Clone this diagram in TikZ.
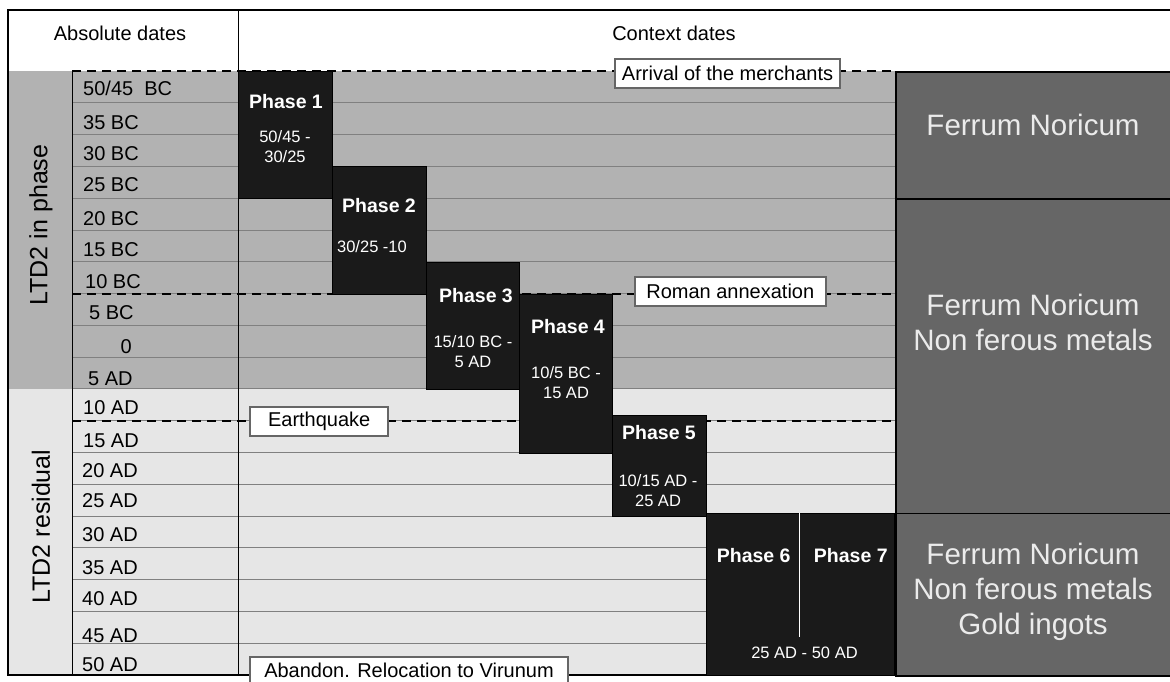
\documentclass[tikz,border=0pt]{standalone}
\usepackage{fontspec}
\setmainfont{Liberation Sans}
\definecolor{midgray}{HTML}{B2B2B2}
\definecolor{lightgray2}{HTML}{E6E6E6}
\definecolor{darkgray2}{HTML}{666666}
\definecolor{phasefill}{HTML}{1A1A1A}
\definecolor{rowgray}{HTML}{808080}
\definecolor{annotgray}{HTML}{666666}
\begin{document}
\begin{tikzpicture}[x=1pt,y=-1pt,
  rowline/.style={draw=rowgray,line width=1pt},
  dashline/.style={draw=black,line width=2pt,dash pattern=on 9pt off 6pt},
  phasebox/.style={rectangle,fill=phasefill,draw=black,line width=0.6pt,anchor=north west,inner sep=0pt},
  phasetitle/.style={text=white,font=\fontsize{19.5}{23}\selectfont\bfseries,inner sep=0pt},
  phasedate/.style={text=white,font=\fontsize{16.5}{20}\selectfont,align=center,inner sep=0pt},
  rightbox/.style={rectangle,fill=darkgray2,draw=black,line width=1.5pt,anchor=north west,inner sep=0pt},
  righttext/.style={text=white!92!black,font=\fontsize{29.5}{35}\selectfont,align=center,inner sep=0pt},
  datelabel/.style={font=\fontsize{20}{24}\selectfont,anchor=west,inner sep=0pt},
  headtext/.style={font=\fontsize{20}{24}\selectfont,inner sep=0pt},
  sidetext/.style={font=\fontsize{25}{30}\selectfont,rotate=90,inner sep=0pt},
  annot/.style={rectangle,fill=white,draw=annotgray,line width=2pt,font=\fontsize{20}{24}\selectfont,inner sep=0pt,minimum height=29pt}
]
\clip (0,0) rectangle (1170,681);
\fill[white] (0,0) rectangle (1170,681);
% background bands
\fill[midgray] (8,71) rectangle (895,388.9);
\fill[lightgray2] (8,388.9) rectangle (895,675);
% row lines
\foreach \yy in {102.8,134.6,166.4,198.2,230.0,261.7,293.5,325.3,357.1,388.9,420.7,452.5,484.3,516.1,547.9,579.6,611.4,643.2}
  \draw[rowline] (72,\yy) -- (895,\yy);
% vertical lines and frame
\draw[line width=1pt] (72,71) -- (72,675);
\draw[line width=1pt] (238,10) -- (238,675);
\draw[line width=1.2pt] (1175,10) -- (8,10) -- (8,675) -- (1175,675);
% dashed event lines
\coordinate (d1a) at (72,71);   \coordinate (d1b) at (895,71);
\coordinate (d2a) at (72,293.5); \coordinate (d2b) at (895,293.5);
\coordinate (d3a) at (72,420.7); \coordinate (d3b) at (895,420.7);
\draw[dashline] (d1a) -- (d1b);
\draw[dashline] (d2a) -- (d2b);
\draw[dashline] (d3a) -- (d3b);
% headers
\node[headtext] (hAbs) at (120,33) {Absolute dates};
\node[headtext] (hCtx) at (674,33) {Context dates};
% side labels
\node[sidetext] (ltdp) at (41,225) {LTD2 in phase};
\node[sidetext] (ltdr) at (41,526.5) {LTD2 residual};
% date labels
\node[datelabel] (l0) at (83,88) {50/45\ \ BC};
\node[datelabel] (l1) at (83,122.5) {35 BC};
\node[datelabel] (l2) at (83,153.5) {30 BC};
\node[datelabel] (l3) at (83,185) {25 BC};
\node[datelabel] (l4) at (83,219) {20 BC};
\node[datelabel] (l5) at (83,250) {15 BC};
\node[datelabel] (l6) at (85,282) {10 BC};
\node[datelabel] (l7) at (89,313) {5 BC};
\node[datelabel] (l8) at (120.5,346.5) {0};
\node[datelabel] (l9) at (88,379) {5 AD};
\node[datelabel] (l10) at (83,408) {10 AD};
\node[datelabel] (l11) at (83,441) {15 AD};
\node[datelabel] (l12) at (82,470.5) {20 AD};
\node[datelabel] (l13) at (82,500.5) {25 AD};
\node[datelabel] (l14) at (82,535) {30 AD};
\node[datelabel] (l15) at (82,567.5) {35 AD};
\node[datelabel] (l16) at (82,599) {40 AD};
\node[datelabel] (l17) at (82,636) {45 AD};
\node[datelabel] (l18) at (82,665) {50 AD};
% phase boxes
\node[phasebox,minimum width=93.5pt,minimum height=127.2pt] (p1) at (238,71) {};
\node[phasebox,minimum width=94.5pt,minimum height=127.1pt] (p2) at (331.5,166.4) {};
\node[phasebox,minimum width=93pt,minimum height=127.2pt] (p3) at (426,261.7) {};
\node[phasebox,minimum width=93pt,minimum height=159pt] (p4) at (519,293.5) {};
\node[phasebox,minimum width=94pt,minimum height=101pt] (p5) at (612,415) {};
\node[phasebox,minimum width=188pt,minimum height=162.5pt] (p67) at (706,512.5) {};
\coordinate (sepTop) at (799.7,512.5);
\coordinate (sepBot) at (799.7,636.5);
\draw[white,line width=1.5pt] (sepTop) -- (sepBot);
% phase texts
\node[phasetitle] (p1t) at (286,101.7) {Phase 1};
\node[phasedate] (p1d) at (285,147) {50/45 -\\30/25};
\node[phasetitle] (p2t) at (379,206) {Phase 2};
\node[phasedate] (p2d) at (372,247) {30/25 -10};
\node[phasetitle] (p3t) at (476,296) {Phase 3};
\node[phasedate] (p3d) at (473,351.7) {15/10 BC -\\5 AD};
\node[phasetitle] (p4t) at (568,326.7) {Phase 4};
\node[phasedate] (p4d) at (566,382.5) {10/5 BC -\\15 AD};
\node[phasetitle] (p5t) at (659,432.7) {Phase 5};
\node[phasedate] (p5d) at (658,490.5) {10/15 AD -\\25 AD};
\node[phasetitle] (p6t) at (753.7,556) {Phase 6};
\node[phasetitle] (p7t) at (850.8,556) {Phase 7};
\node[phasedate] (p67d) at (804.5,653) {25 AD - 50 AD};
% right column
\node[rightbox,minimum width=280pt,minimum height=127.2pt] (r1) at (895,71) {};
\node[rightbox,minimum width=280pt,minimum height=314.3pt] (r2) at (895,198.2) {};
\node[rightbox,minimum width=280pt,minimum height=162.5pt] (r3) at (895,512.5) {};
\node[righttext] (r1t) at (1033,125) {Ferrum Noricum};
\node[righttext] (r2t) at (1033,322) {Ferrum Noricum\\Non ferous metals};
\node[righttext] (r3t) at (1033,591.5) {Ferrum Noricum\\Non ferous metals\\Gold ingots};
% annotations
\node[annot,minimum width=225pt] (arr) at (727.5,73.5) {Arrival of the merchants};
\node[annot,minimum width=191pt] (rom) at (730.3,291.2) {Roman annexation};
\node[annot,minimum width=138pt] (eq) at (319.2,421.2) {Earthquake};
\node[annot,minimum width=318pt,minimum height=33pt] (ab) at (409,673.5) {};
\node[font=\fontsize{20}{24}\selectfont,inner sep=0pt] (abt) at (409,670.5) {Abandon. Relocation to Virunum};
\end{tikzpicture}
\end{document}
